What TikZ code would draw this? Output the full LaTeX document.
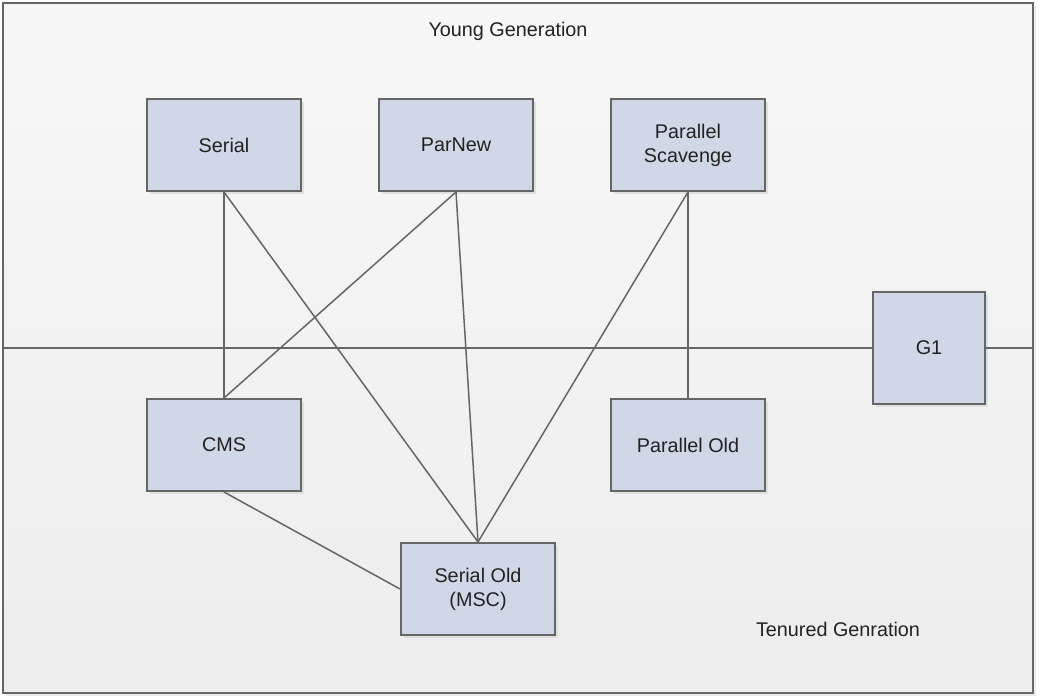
\documentclass[tikz,border=0pt]{standalone}
\usepackage{fontspec}
\setmainfont{Liberation Sans}
\usetikzlibrary{shadows}
\definecolor{boxfill}{HTML}{D0D8E7}
\definecolor{boxline}{HTML}{666666}
\definecolor{textdark}{HTML}{222222}
\begin{document}
\begin{tikzpicture}[x=1pt, y=-1pt, every node/.style={font=\fontsize{19.8}{24}\selectfont, text=textdark},
	gcbox/.style={draw=boxline, line width=2pt, fill=boxfill, minimum width=154pt, minimum height=92pt, align=center, inner sep=2pt, drop shadow={shadow xshift=3pt, shadow yshift=-3pt, fill=black!12, opacity=1}},
	link/.style={draw=boxline, line width=1.5pt}]
	\useasboundingbox (0,0) rectangle (1040,700);
	\node (frame) [draw=boxline, line width=2.5pt, top color=white!97!black, bottom color=white!93!black, minimum width=1030pt, minimum height=690pt, drop shadow={shadow xshift=3pt, shadow yshift=-3pt, fill=black!8, opacity=1}] at (518,348) {};
	\node (young) at (508,31) {Young Generation};
	\node (tenured) at (838,629) {Tenured Genration};
	\node (g1) [gcbox, minimum width=112pt, minimum height=112pt] at (929,348) {G1};
	\draw[link] (frame.west) -- (g1.west);
	\draw[link] (g1.east) -- (frame.east);
	\node (serial) [gcbox] at (224,145) {Serial};
	\node (parnew) [gcbox] at (456,145) {ParNew};
	\node (scavenge) [gcbox] at (688,145) {Parallel\\Scavenge};
	\node (cms) [gcbox] at (224,445) {CMS};
	\node (parold) [gcbox] at (688,445) {Parallel Old};
	\node (serialold) [gcbox] at (478,589) {Serial Old\\(MSC)};
	\draw[link] (serial.south) -- (cms.north);
	\draw[link] (serial.south) -- (serialold.north);
	\draw[link] (parnew.south) -- (cms.north);
	\draw[link] (parnew.south) -- (serialold.north);
	\draw[link] (scavenge.south) -- (serialold.north);
	\draw[link] (scavenge.south) -- (parold.north);
	\draw[link] (cms.south) -- (serialold.west);
\end{tikzpicture}
\end{document}
